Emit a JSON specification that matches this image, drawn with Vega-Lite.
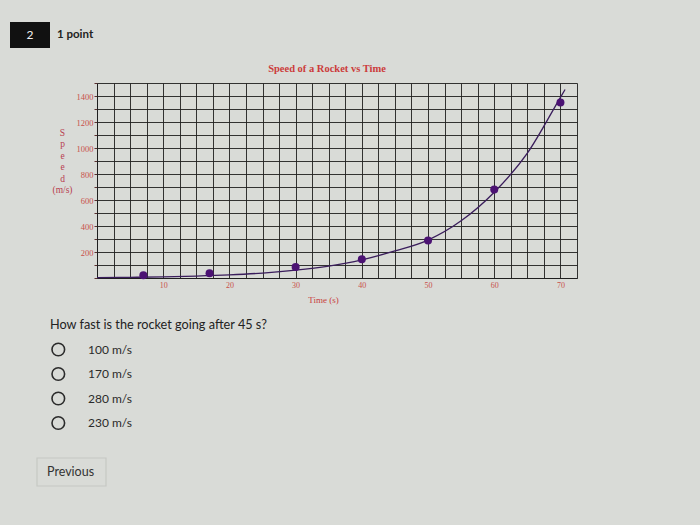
{
  "$schema": "https://vega.github.io/schema/vega-lite/v6.json",
  "background": "#d9dbd7",
  "padding": {"left": 10, "top": 22, "right": 123, "bottom": 4},
  "bounds": "flush",
  "spacing": 47,
  "config": {"view": {"stroke": null}},
  "datasets": {
    "header": [
      {"part": "badge", "label": "2"},
      {"part": "points", "label": "1 point"}
    ],
    "points": [
      {"t": 7, "v": 21},
      {"t": 17, "v": 36},
      {"t": 30, "v": 85},
      {"t": 40, "v": 145},
      {"t": 50, "v": 288},
      {"t": 60, "v": 680},
      {"t": 70, "v": 1350}
    ],
    "curve": [
      {"t": 0, "v": 3},
      {"t": 5, "v": 5},
      {"t": 10, "v": 9},
      {"t": 15, "v": 15},
      {"t": 20, "v": 24},
      {"t": 25, "v": 38},
      {"t": 30, "v": 60},
      {"t": 35, "v": 92},
      {"t": 40, "v": 140},
      {"t": 45, "v": 208},
      {"t": 50, "v": 292},
      {"t": 55, "v": 440},
      {"t": 60, "v": 660},
      {"t": 65, "v": 960},
      {"t": 70, "v": 1390},
      {"t": 70.7, "v": 1450}
    ],
    "quiz": [
      {"kind": "question", "label": "How fast is the rocket going after 45 s?"},
      {"kind": "option", "label": "100 m/s"},
      {"kind": "option", "label": "170 m/s"},
      {"kind": "option", "label": "280 m/s"},
      {"kind": "option", "label": "230 m/s"},
      {"kind": "button", "label": "Previous"}
    ]
  },
  "vconcat": [
    {
      "width": 2,
      "height": 2,
      "data": {"name": "header"},
      "layer": [
        {
          "transform": [{"filter": "datum.part == 'badge'"}],
          "mark": {"type": "point", "shape": "M-8.8,-1.3H-4.8V1.3H-8.8Z", "size": 400, "filled": true, "color": "#111111", "opacity": 1, "strokeWidth": 0},
          "encoding": {}
        },
        {
          "transform": [{"filter": "datum.part == 'badge'"}],
          "mark": {"type": "text", "dx": -68, "align": "center", "baseline": "middle", "color": "#f2f2f2", "fontSize": 12, "font": "Lato"},
          "encoding": {"text": {"field": "label"}}
        },
        {
          "transform": [{"filter": "datum.part == 'points'"}],
          "mark": {"type": "text", "dx": -41, "align": "left", "baseline": "middle", "color": "#222222", "fontSize": 11.5, "fontWeight": "bold", "font": "Lato"},
          "encoding": {"text": {"field": "label"}}
        }
      ]
    },
    {
      "width": 480,
      "height": 195,
      "title": {"text": "Speed of a Rocket vs Time", "font": "Liberation Serif", "fontSize": 10.5, "fontWeight": "bold", "color": "#cc3b3b", "offset": 8, "dx": -10},
      "encoding": {
        "x": {
          "field": "t", "type": "quantitative",
          "scale": {"domain": [0, 72.5], "nice": false, "zero": false},
          "axis": {
            "values": [0, 2.5, 5, 7.5, 10, 12.5, 15, 17.5, 20, 22.5, 25, 27.5, 30, 32.5, 35, 37.5, 40, 42.5, 45, 47.5, 50, 52.5, 55, 57.5, 60, 62.5, 65, 67.5, 70, 72.5],
            "labelExpr": "datum.value % 10 == 0 && datum.value > 0 ? datum.label : ''",
            "grid": true, "gridColor": "#1f1f1f", "gridOpacity": 0.9, "gridWidth": 1,
            "domainColor": "#1f1f1f", "ticks": false,
            "labelFont": "Liberation Serif", "labelFontSize": 8, "labelColor": "#c8504a", "labelPadding": 3,
            "title": "Time (s)", "titleFont": "Liberation Serif", "titleFontSize": 9, "titleFontWeight": "normal", "titleColor": "#c83c3c", "titleX": 226, "titlePadding": 6
          }
        },
        "y": {
          "field": "v", "type": "quantitative",
          "scale": {"domain": [0, 1500], "nice": false},
          "axis": {
            "values": [0, 100, 200, 300, 400, 500, 600, 700, 800, 900, 1000, 1100, 1200, 1300, 1400, 1500],
            "format": "d",
            "labelExpr": "datum.value % 200 == 0 && datum.value > 0 && datum.value < 1500 ? datum.label : ''",
            "grid": true, "gridColor": "#1f1f1f", "gridOpacity": 0.9, "gridWidth": 1,
            "domainColor": "#1f1f1f", "tickColor": "#5a3030", "tickSize": 3,
            "labelFont": "Liberation Serif", "labelFontSize": 8.5, "labelColor": "#c8504a", "labelPadding": 1,
            "title": ["S", "p", "e", "e", "d", "\u00a0", "(m/s)"],
            "titleAngle": 0, "titleAlign": "center", "titleBaseline": "middle", "titleX": -35, "titleY": 49,
            "titleFont": "Liberation Serif", "titleFontSize": 9.5, "titleFontWeight": "normal", "titleColor": "#b8404f"
          }
        }
      },
      "layer": [
        {
          "data": {"name": "curve"},
          "mark": {"type": "line", "color": "#3a1d5c", "strokeWidth": 1.3, "interpolate": "monotone"}
        },
        {
          "data": {"name": "points"},
          "mark": {"type": "circle", "size": 64, "color": "#4b1273", "opacity": 1}
        }
      ]
    },
    {
      "width": 2,
      "height": 196,
      "data": {"name": "quiz"},
      "encoding": {
        "y": {
          "field": "label", "type": "nominal",
          "scale": {"type": "point", "padding": 0, "domain": ["How fast is the rocket going after 45 s?", "100 m/s", "170 m/s", "280 m/s", "230 m/s", " ", "Previous", "  ", "   "]},
          "axis": null
        }
      },
      "layer": [
        {
          "transform": [{"filter": "datum.kind == 'question'"}],
          "mark": {"type": "text", "dx": -48, "align": "left", "baseline": "middle", "color": "#222222", "fontSize": 12.7, "font": "Lato"},
          "encoding": {"text": {"field": "label"}}
        },
        {
          "transform": [{"filter": "datum.kind == 'option'"}],
          "mark": {"type": "point", "shape": "M-3.34,0A0.63,0.63 0 1,1 -4.6,0A0.63,0.63 0 1,1 -3.34,0Z", "size": 400, "filled": false, "stroke": "#2b2b2b", "strokeWidth": 1.6, "opacity": 1}
        },
        {
          "transform": [{"filter": "datum.kind == 'option'"}],
          "mark": {"type": "text", "dx": -10, "align": "left", "baseline": "middle", "color": "#2a2a2a", "fontSize": 12, "font": "Lato"},
          "encoding": {"text": {"field": "label"}}
        },
        {
          "transform": [{"filter": "datum.kind == 'button'"}],
          "mark": {"type": "point", "shape": "M-6.1,-1.4H0.8V1.4H-6.1Z", "size": 400, "filled": false, "stroke": "#c6c8c4", "strokeWidth": 1.2, "opacity": 1}
        },
        {
          "transform": [{"filter": "datum.kind == 'button'"}],
          "mark": {"type": "text", "dx": -51, "align": "left", "baseline": "middle", "color": "#333333", "fontSize": 12.5, "font": "Lato"},
          "encoding": {"text": {"field": "label"}}
        }
      ]
    }
  ]
}
